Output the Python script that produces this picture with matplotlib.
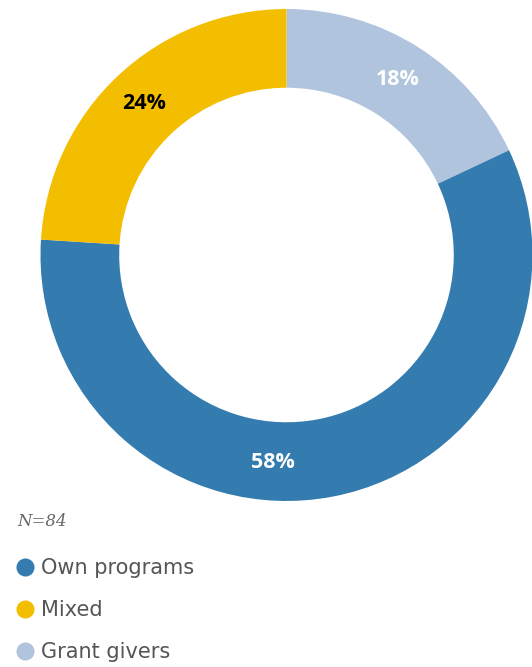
import numpy as np
import matplotlib.pyplot as plt
from matplotlib.lines import Line2D

# data (clockwise from 12 o'clock)
labels = ["Grant givers", "Own programs", "Mixed"]
shares = [18, 58, 24]
colors = ["#b0c4de", "#347caf", "#f4be00"]
pct_colors = ["white", "white", "black"]
legend_order = ["Own programs", "Mixed", "Grant givers"]
n_text = "N=84"

fig = plt.figure(figsize=(5.32, 6.67), dpi=100)
ax = fig.add_axes([0.0761, 0.2489, 0.9248, 0.7376])

wedges, _ = ax.pie(shares, colors=colors, startangle=90, counterclock=False,
                   radius=1.0, wedgeprops=dict(width=0.32, linewidth=0))
ax.set_aspect("equal")
ax.set_xlim(-1, 1)
ax.set_ylim(-1, 1)
ax.axis("off")

# percentage labels in the middle of the ring
shift = [0, -14.5, 0]  # small nudge for the bottom label
for w, s, c, d in zip(wedges, shares, pct_colors, shift):
    ang = np.deg2rad((w.theta1 + w.theta2) / 2 + d)
    r = 0.845
    ax.text(r * np.cos(ang), r * np.sin(ang), f"{s}%", ha="center", va="center",
            color=c, fontsize=15.5, fontweight="bold", family="Open Sans")

fig.text(0.032, 0.218, n_text, fontsize=12, style="italic", color="#666666",
         family="DejaVu Serif", va="center")

handles = [Line2D([], [], marker="o", linestyle="none", markersize=13,
                  markerfacecolor=colors[labels.index(l)], markeredgewidth=0)
           for l in legend_order]
leg = fig.legend(handles, legend_order, loc="upper left",
                 bbox_to_anchor=(0.022, 0.163), frameon=False, fontsize=15,
                 handletextpad=0.1, handlelength=1.3, labelspacing=1.05,
                 borderaxespad=0, borderpad=0)
for t in leg.get_texts():
    t.set_color("#555555")
    t.set_family("DejaVu Sans")

fig.savefig("out.png", dpi=100)
